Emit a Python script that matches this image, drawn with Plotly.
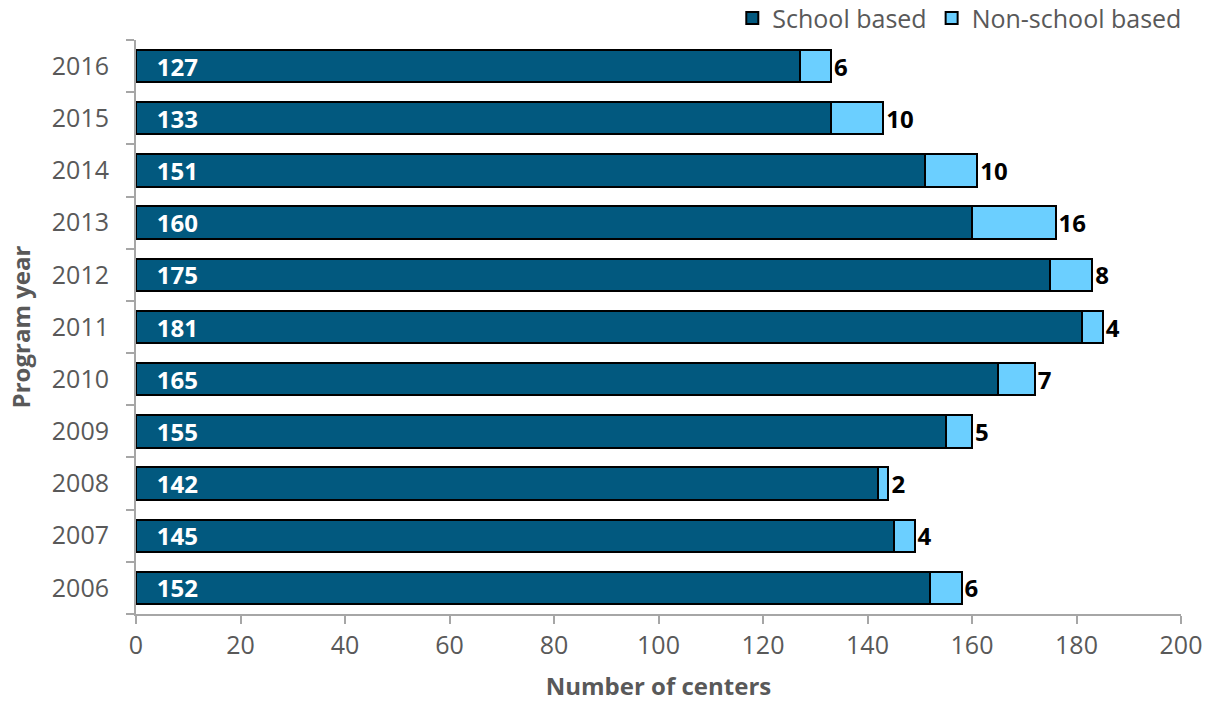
import plotly.graph_objects as go

years = ["2006", "2007", "2008", "2009", "2010", "2011", "2012", "2013", "2014", "2015", "2016"]
school = [152, 145, 142, 155, 165, 181, 175, 160, 151, 133, 127]
non_school = [6, 4, 2, 5, 7, 4, 8, 16, 10, 10, 6]
x_ticks = [0, 20, 40, 60, 80, 100, 120, 140, 160, 180, 200]

FONT = "Open Sans"
GRAY = "#595959"

fig = go.Figure()
fig.add_trace(go.Bar(
    name="School based", y=years, x=school, orientation="h",
    marker=dict(color="#02597F", line=dict(color="black", width=2)),
    texttemplate="\u2007\u2009%{x}", textposition="inside", insidetextanchor="start",
    textfont=dict(family=FONT, size=24, color="white", weight="bold"),
    constraintext="none",
))
fig.add_trace(go.Bar(
    name="Non-school based", y=years, x=non_school, orientation="h",
    marker=dict(color="#6BCFFF", line=dict(color="black", width=2)),
    texttemplate="%{x}", textposition="outside",
    textfont=dict(family=FONT, size=24, color="black", weight="bold"),
    constraintext="none", cliponaxis=False,
))

fig.update_layout(
    barmode="stack", bargap=0.38,
    width=1214, height=703,
    margin=dict(l=136, r=33, t=40, b=89, autoexpand=False),
    plot_bgcolor="white", paper_bgcolor="white",
    font=dict(family=FONT, color=GRAY, size=25),
    uniformtext=dict(mode=False),
    legend=dict(orientation="h", x=0.978, xanchor="right", xref="container",
                y=0.974, yanchor="middle", yref="container",
                font=dict(size=25, color=GRAY), traceorder="normal"),
    xaxis=dict(range=[0, 200], tickvals=x_ticks, ticks="outside", ticklen=8,
               tickcolor="#A6A6A6", tickwidth=2, showline=True, linecolor="#A6A6A6",
               linewidth=2, showgrid=False, zeroline=False,
               tickfont=dict(size=25, color=GRAY),
               title=dict(text="<b>Number of centers</b>", font=dict(size=24, color=GRAY), standoff=18)),
    yaxis=dict(categoryorder="array", categoryarray=years, ticks="outside", ticklen=8,
               tickson="boundaries", tickcolor="#A6A6A6", tickwidth=2, showline=True,
               linecolor="#A6A6A6", linewidth=2, showgrid=False, zeroline=False,
               ticklabelstandoff=20,
               tickfont=dict(size=25, color=GRAY),
               title=dict(text="<b>Program year</b>", font=dict(size=24, color=GRAY), standoff=14)),
)

fig.write_html("out.html")
